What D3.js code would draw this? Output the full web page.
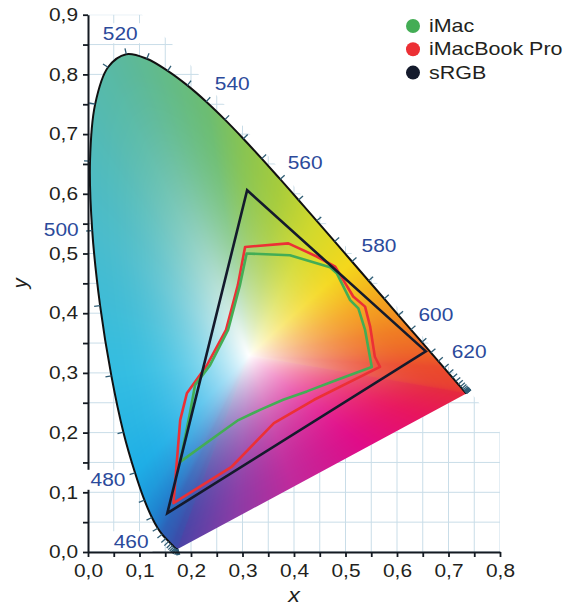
<!DOCTYPE html>
<html>
<head>
<meta charset="utf-8">
<script src="https://cdn.jsdelivr.net/npm/d3@7"></script>
<style>
  html, body { margin: 0; padding: 0; background: #fff; }
  svg { display: block; font-family: "Liberation Sans", Arial, sans-serif; }
</style>
</head>
<body>
<svg id="chart" width="564" height="608"></svg>
<script>
// ---- CIE 1931 2° spectral locus (5 nm steps) ----
const wavelengths = [380,385,390,395,400,405,410,415,420,425,430,435,440,445,450,455,460,465,470,475,
  480,485,490,495,500,505,510,515,520,525,530,535,540,545,550,555,560,565,570,575,580,585,590,595,
  600,605,610,615,620,625,630,635,640,645,650,655,660,665,670,675,680,685,690,695,700];
const locusX = [0.1741,0.1740,0.1738,0.1736,0.1733,0.1730,0.1726,0.1721,0.1714,0.1703,0.1689,0.1669,
  0.1644,0.1611,0.1566,0.1510,0.1440,0.1355,0.1241,0.1096,0.0913,0.0687,0.0454,0.0235,0.0082,0.0039,
  0.0139,0.0389,0.0743,0.1142,0.1547,0.1929,0.2296,0.2658,0.3016,0.3373,0.3731,0.4087,0.4441,0.4788,
  0.5125,0.5448,0.5752,0.6029,0.6270,0.6482,0.6658,0.6801,0.6915,0.7006,0.7079,0.7140,0.7190,0.7230,
  0.7260,0.7283,0.7300,0.7311,0.7320,0.7327,0.7334,0.7340,0.7344,0.7346,0.7347];
const locusY = [0.0050,0.0050,0.0049,0.0049,0.0048,0.0048,0.0048,0.0048,0.0051,0.0058,0.0069,0.0086,
  0.0109,0.0138,0.0177,0.0227,0.0297,0.0399,0.0578,0.0868,0.1327,0.2007,0.2950,0.4127,0.5384,0.6548,
  0.7502,0.8120,0.8338,0.8262,0.8059,0.7816,0.7543,0.7243,0.6923,0.6589,0.6245,0.5896,0.5547,0.5202,
  0.4866,0.4544,0.4242,0.3965,0.3725,0.3514,0.3340,0.3197,0.3083,0.2993,0.2920,0.2859,0.2809,0.2770,
  0.2740,0.2717,0.2700,0.2689,0.2680,0.2673,0.2666,0.2660,0.2656,0.2654,0.2653];

// wavelengths that carry a label
const labelledNm = [460, 480, 500, 520, 540, 560, 580, 600, 620];

// colour of the diagram just inside the spectral edge, by wavelength
const edgeNm = [380, 440, 460, 470, 480, 490, 500, 510, 520, 540, 550, 560, 570, 580, 590, 600, 620, 700];
const edgeColors = ["#4a44a6","#3a4fab","#2d62b8","#1f84d0","#1eaee6","#33bde2","#4abccc","#55bab0",
  "#5cb99a","#6cbd72","#88c452","#a6cc3c","#d2d92c","#f4d81c","#f4a41e","#f07c22","#ea4a2c","#e52a3e"];
// colour along the line of purples, from the 700 nm end (0) to the 380 nm end (1)
const purpleStops = [0, 0.15, 0.35, 0.6, 0.8, 1];
const purpleColors = ["#e52a3e","#e8155e","#e00c88","#c02a9c","#8a3ca6","#4a44a6"];
const whitePoint = [0.3127, 0.3290];

// ---- gamuts ----
const imacX = [0.308,0.392,0.470,0.483,0.509,0.525,0.538,0.551,0.483,0.425,0.379,0.334,0.292,0.256,0.179,0.198,0.208,0.237,0.272,0.295];
const imacY = [0.500,0.497,0.477,0.467,0.422,0.408,0.372,0.310,0.288,0.269,0.255,0.238,0.221,0.199,0.151,0.233,0.280,0.313,0.372,0.447];
const mbpX = [0.305,0.389,0.444,0.480,0.515,0.538,0.548,0.557,0.567,0.439,0.361,0.278,0.166,0.179,0.192,0.231,0.268,0.291];
const mbpY = [0.511,0.517,0.495,0.478,0.428,0.411,0.377,0.327,0.310,0.255,0.216,0.142,0.082,0.221,0.266,0.313,0.372,0.447];
const srgbX = [0.656, 0.309, 0.154];
const srgbY = [0.336, 0.606, 0.065];

// ---- legend ----
const legendLabels = ["iMac", "iMacBook Pro", "sRGB"];
const legendColors = ["#43ad55", "#ec3035", "#141a2c"];

// ---- axis ticks ----
const xTicks = d3.range(0, 0.8001, 0.05);
const yTicks = d3.range(0, 0.9001, 0.05);

// ================= drawing =================
const svg = d3.select("#chart");
const STRETCH = 1.16;          // text is set slightly wide
const textColor = "#231f20";

const xS = d3.scaleLinear().domain([0, 0.8]).range([88, 500]);
const yS = d3.scaleLinear().domain([0, 0.9]).range([552, 14.7]);

const locus = wavelengths.map((w, i) => ({ w, x: locusX[i], y: locusY[i] }));
const toPt = d => [xS(d.x), yS(d.y)];

const defs = svg.append("defs");

// background grid, limited to a chamfered region around the diagram
const gridRegion = [[0,0],[0,0.9],[0.105,0.9],[0.17,0.845],[0.755,0.255],[0.8,0.2],[0.8,0]];
defs.append("clipPath").attr("id", "gridClip")
  .append("path")
  .attr("d", d3.line().x(d => xS(d[0])).y(d => yS(d[1]))(gridRegion) + "Z");

const grid = svg.append("g").attr("clip-path", "url(#gridClip)")
  .attr("stroke", "#c9dde8").attr("stroke-width", 1);
grid.selectAll("line.v").data(xTicks).join("line").attr("class", "v")
  .attr("x1", d => xS(d)).attr("x2", d => xS(d)).attr("y1", yS(0)).attr("y2", yS(0.9));
grid.selectAll("line.h").data(yTicks).join("line").attr("class", "h")
  .attr("x1", xS(0)).attr("x2", xS(0.8)).attr("y1", d => yS(d)).attr("y2", d => yS(d));

// spectral locus outline closed by the line of purples
const locusLine = d3.line().x(d => xS(d.x)).y(d => yS(d.y)).curve(d3.curveCatmullRom.alpha(0.5));
defs.append("clipPath").attr("id", "locusClip")
  .append("path").attr("d", locusLine(locus) + "Z");

// ---- colour field ----
const edgeScale = d3.scaleLinear().domain(edgeNm).range(edgeColors).interpolate(d3.interpolateRgb).clamp(true);
const purpleScale = d3.scaleLinear().domain(purpleStops).range(purpleColors).interpolate(d3.interpolateRgb).clamp(true);
function colorAtEdge(segIndex, u) {
  // segIndex < locus.length-1 : spectral segment; otherwise the purple line
  if (segIndex < locus.length - 1) return d3.rgb(edgeScale(locus[segIndex].w + 5 * u));
  return d3.rgb(purpleScale(u));
}

const boundary = locus.map(d => [d.x, d.y]);
boundary.push([locus[0].x, locus[0].y]);   // close back to 380 nm
const BINS = 2880;
const binDist = new Float32Array(BINS);
const binCol = [];
for (let b = 0; b < BINS; b++) {
  const th = (b + 0.5) / BINS * 2 * Math.PI - Math.PI;
  const dx = Math.cos(th), dy = Math.sin(th);
  let best = Infinity, bestCol = d3.rgb(255,255,255);
  for (let i = 0; i < boundary.length - 1; i++) {
    const [ax, ay] = boundary[i], [bx, by] = boundary[i + 1];
    const ex = bx - ax, ey = by - ay;
    const den = dx * ey - dy * ex;
    if (Math.abs(den) < 1e-12) continue;
    const wx = ax - whitePoint[0], wy = ay - whitePoint[1];
    const t = (wx * ey - wy * ex) / den;
    const u = (wx * dy - wy * dx) / den;
    if (t > 0 && u >= -1e-9 && u <= 1 + 1e-9 && t < best) {
      best = t;
      bestCol = colorAtEdge(i, u);
    }
  }
  binDist[b] = best;
  binCol.push(bestCol);
}

const cvX0 = 80, cvY0 = 0, cvW = 430, cvH = 560;
const canvas = document.createElement("canvas");
canvas.width = cvW; canvas.height = cvH;
const ctx = canvas.getContext("2d");
const img = ctx.createImageData(cvW, cvH);
for (let j = 0; j < cvH; j++) {
  const dy = yS.invert(cvY0 + j + 0.5) - whitePoint[1];
  for (let i = 0; i < cvW; i++) {
    const dx = xS.invert(cvX0 + i + 0.5) - whitePoint[0];
    const th = Math.atan2(dy, dx);
    let b = Math.floor((th + Math.PI) / (2 * Math.PI) * BINS);
    if (b >= BINS) b = BINS - 1; if (b < 0) b = 0;
    const s = Math.hypot(dx, dy) / binDist[b];
    if (s > 1.08) continue;
    const m = 1 - Math.pow(1 - Math.min(s, 1), 2.2);
    const c = binCol[b];
    const k = (j * cvW + i) * 4;
    img.data[k]     = Math.round(255 + (c.r - 255) * m);
    img.data[k + 1] = Math.round(255 + (c.g - 255) * m);
    img.data[k + 2] = Math.round(255 + (c.b - 255) * m);
    img.data[k + 3] = 255;
  }
}
ctx.putImageData(img, 0, 0);

svg.append("image")
  .attr("x", cvX0).attr("y", cvY0).attr("width", cvW).attr("height", cvH)
  .attr("href", canvas.toDataURL())
  .attr("clip-path", "url(#locusClip)");

// spectral locus outline (not the line of purples)
svg.append("path")
  .attr("d", locusLine(locus))
  .attr("fill", "none").attr("stroke", "#111").attr("stroke-width", 2);

// outward normals on the locus
function normalAt(i) {
  const a = toPt(locus[Math.max(0, i - 1)]), b = toPt(locus[Math.min(locus.length - 1, i + 1)]);
  let tx = b[0] - a[0], ty = b[1] - a[1];
  const L = Math.hypot(tx, ty) || 1;
  tx /= L; ty /= L;
  return [ty, -tx];
}
const tickLen = 6;
svg.append("g").attr("stroke", "#2f5d75").attr("stroke-width", 1.3)
  .selectAll("line").data(locus.map((d, i) => i)).join("line")
  .attr("x1", i => toPt(locus[i])[0])
  .attr("y1", i => toPt(locus[i])[1])
  .attr("x2", i => toPt(locus[i])[0] + normalAt(i)[0] * tickLen)
  .attr("y2", i => toPt(locus[i])[1] + normalAt(i)[1] * tickLen);

// gamut outlines
const poly = (xs, ys) => d3.line()(xs.map((x, i) => [xS(x), yS(ys[i])])) + "Z";
svg.append("path").attr("d", poly(mbpX, mbpY))
  .attr("fill", "none").attr("stroke", legendColors[1]).attr("stroke-width", 2.6).attr("stroke-linejoin", "round");
svg.append("path").attr("d", poly(imacX, imacY))
  .attr("fill", "none").attr("stroke", legendColors[0]).attr("stroke-width", 2.6).attr("stroke-linejoin", "round");
svg.append("path").attr("d", poly(srgbX, srgbY))
  .attr("fill", "none").attr("stroke", legendColors[2]).attr("stroke-width", 2.6);

// ---- axes ----
const fmt = d => Math.abs(d * 10 - Math.round(d * 10)) < 1e-6 ? d.toFixed(1).replace(".", ",") : "";
const gx = svg.append("g").attr("transform", `translate(0,${yS(0)})`)
  .call(d3.axisBottom(xS).tickValues(xTicks).tickFormat(fmt).tickSize(5).tickSizeOuter(0).tickPadding(7));
const gy = svg.append("g").attr("transform", `translate(${xS(0)},0)`)
  .call(d3.axisLeft(yS).tickValues(yTicks).tickFormat(fmt).tickSize(5).tickSizeOuter(0));
[gx, gy].forEach(g => {
  g.attr("font-family", null).attr("font-size", null);
  g.select(".domain").attr("stroke", "#141a22").attr("stroke-width", 2);
  g.selectAll(".tick line").attr("stroke", "#141a22").attr("stroke-width", 1.8);
  g.selectAll(".tick text").attr("fill", textColor).attr("font-size", 18)
    .attr("transform", `scale(${STRETCH},1)`);
});
gy.selectAll(".tick text").attr("x", -10 / STRETCH);

// axis titles
svg.append("g").attr("transform", `translate(${(xS(0) + xS(0.8)) / 2},602)`)
  .append("text").attr("transform", `scale(${STRETCH},1)`)
  .attr("text-anchor", "middle").attr("font-style", "italic").attr("font-size", 20)
  .attr("fill", textColor).text("x");
svg.append("g").attr("transform", `translate(27,${yS(0.45)}) rotate(-90)`)
  .append("text").attr("text-anchor", "middle").attr("font-style", "italic").attr("font-size", 20)
  .attr("fill", textColor).text("y");

// ---- wavelength labels ----
const labelOffset = { 460: [-31, 7], 480: [-27, 7], 500: [-31, -1], 520: [-6, -21], 540: [26, -18],
  560: [25, -17], 580: [27, -16.5], 600: [25, -15], 620: [25, -16] };
const lblG = svg.append("g");
labelledNm.forEach(w => {
  const d = locus.find(p => p.w === w);
  const [px, py] = toPt(d);
  const cx = px + labelOffset[w][0], cy = py + labelOffset[w][1];
  const g = lblG.append("g").attr("transform", `translate(${cx},${cy})`);
  const rect = g.append("rect").attr("fill", "#fff");
  const t = g.append("text").attr("transform", `scale(${STRETCH},1)`)
    .attr("text-anchor", "middle").attr("y", 6.5)
    .attr("font-size", 18).attr("fill", "#2b4a9b").text(w);
  const wd = t.node().getComputedTextLength() * STRETCH;
  rect.attr("x", -wd / 2 - 4).attr("y", -10).attr("width", wd + 8).attr("height", 20);
});

// ---- legend ----
const leg = svg.append("g");
legendLabels.forEach((name, i) => {
  const yb = 32 + i * 23.3;
  leg.append("circle").attr("cx", 413).attr("cy", yb - 6).attr("r", 7).attr("fill", legendColors[i]);
  leg.append("g").attr("transform", `translate(429,${yb})`)
    .append("text").attr("transform", `scale(${STRETCH},1)`)
    .attr("font-size", 18.5).attr("fill", textColor).text(name);
});
</script>
</body>
</html>
